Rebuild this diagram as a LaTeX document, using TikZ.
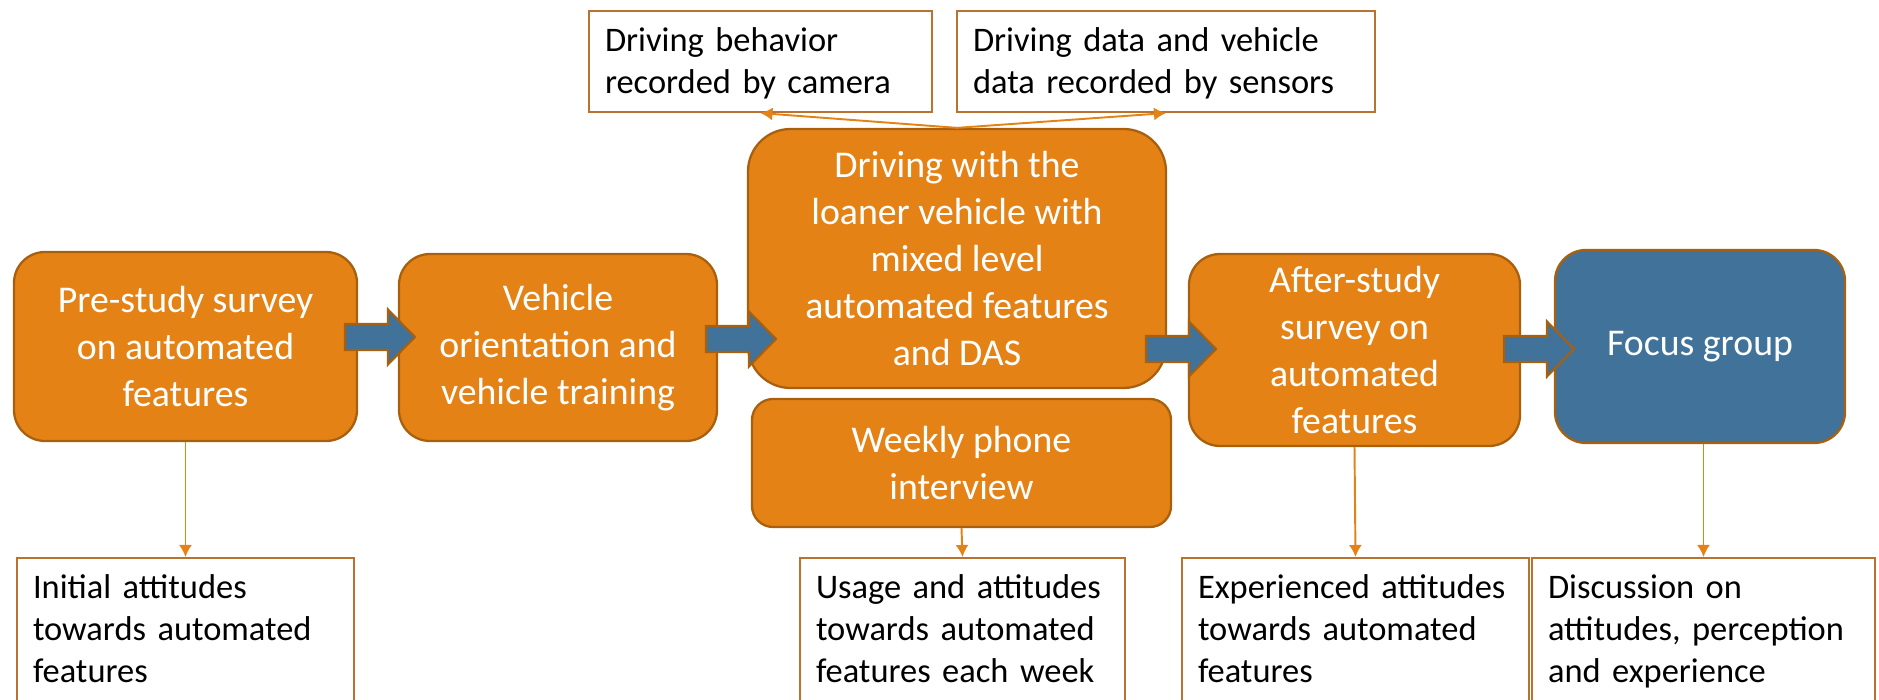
\documentclass[tikz,border=0pt]{standalone}
\usepackage{fontspec}
\setmainfont{Carlito}
\usetikzlibrary{arrows.meta}
\definecolor{stageorange}{HTML}{E48216}
\definecolor{stageedge}{HTML}{A8600F}
\definecolor{focusblue}{HTML}{41729A}
\definecolor{noteedge}{HTML}{B97230}
% fat blue arrow between two stages, tail at (#1,#2)
\newcommand{\flowarrow}[2]{%
  \filldraw[fill=focusblue,draw=stageedge,line width=1.2pt,line join=miter]
    (#1,#2) ++(0,0.26) -- ++(0.86,0) -- ++(0,0.29) -- ++(0.54,-0.55)
    -- ++(-0.54,-0.55) -- ++(0,0.29) -- ++(-0.86,0) -- cycle;}

\begin{document}
\begin{tikzpicture}[
  stage/.style={draw=stageedge,line width=1.3pt,fill=stageorange,rounded corners=0.62cm,
    text=white,align=center,inner sep=0pt,font=\fontsize{21.5}{26.7}\selectfont},
  note/.style={draw=noteedge,line width=0.9pt,fill=white,align=left,inner xsep=0.32cm,
    inner ysep=0pt,text height=0.81cm,font=\fontsize{19.6}{23.9}\selectfont},
  feed/.style={draw=stageorange,line width=1.1pt,-{Latex[length=0.24cm,width=0.26cm]}}]
\clip (0,0) rectangle (37.58,14);
% study stages
\node[stage,minimum width=6.86cm,minimum height=3.78cm] (pre) at (3.71,7.07)
  {Pre-study survey\\on automated\\features};
\node[stage,minimum width=6.36cm,minimum height=3.74cm] (orient) at (11.16,7.05)
  {Vehicle\\orientation and\\vehicle training};
\node[stage,minimum width=8.36cm,minimum height=5.18cm,rounded corners=0.85cm] (drive) at (19.14,8.83)
  {Driving with the\\loaner vehicle with\\mixed level\\automated features\\and DAS};
\node[stage,minimum width=8.38cm,minimum height=2.56cm,rounded corners=0.42cm] (phone) at (19.23,4.74)
  {Weekly phone\\interview};
\node[stage,minimum width=6.62cm,minimum height=3.84cm] (after) at (27.09,7.0)
  {After-study\\survey on\\automated\\features};
\node[stage,fill=focusblue,minimum width=5.8cm,minimum height=3.86cm] (focus) at (34.0,7.07)
  {Focus group};
\flowarrow{6.90}{7.26}
\flowarrow{14.12}{7.22}
\flowarrow{22.92}{7.02}
\flowarrow{30.08}{7.02}
% recorded data
\node[note,anchor=north,text width=6.22cm,text depth=1.22cm] (camera) at (15.21,13.8)
  {Driving behavior\\recorded by camera};
\node[note,anchor=north,text width=7.72cm,text depth=1.22cm] (sensor) at (23.32,13.8)
  {Driving data and vehicle\\data recorded by sensors};
% outcomes
\node[note,anchor=north,text width=6.10cm,text depth=3cm] (initial) at (3.71,2.86)
  {Initial attitudes\\towards automated\\features};
\node[note,anchor=north,text width=5.86cm,text depth=3cm] (weekly) at (19.25,2.86)
  {Usage and attitudes\\towards automated\\features each week};
\node[note,anchor=north,text width=6.30cm,text depth=3cm] (experienced) at (27.11,2.86)
  {Experienced attitudes\\towards automated\\features};
\node[note,anchor=north,text width=6.22cm,text depth=3cm] (discussion) at (34.07,2.86)
  {Discussion on\\attitudes, perception\\and experience};
\draw[feed] (drive.north) -- (camera.south);
\draw[feed] (drive.north) -- (sensor.south);
\draw[feed] (pre.south) -- (initial.north);
\draw[feed] (phone.south) -- (weekly.north);
\draw[feed] (after.south) -- (experienced.north);
\draw[feed] (discussion.north |- focus.south) -- (discussion.north);
\end{tikzpicture}
\end{document}
